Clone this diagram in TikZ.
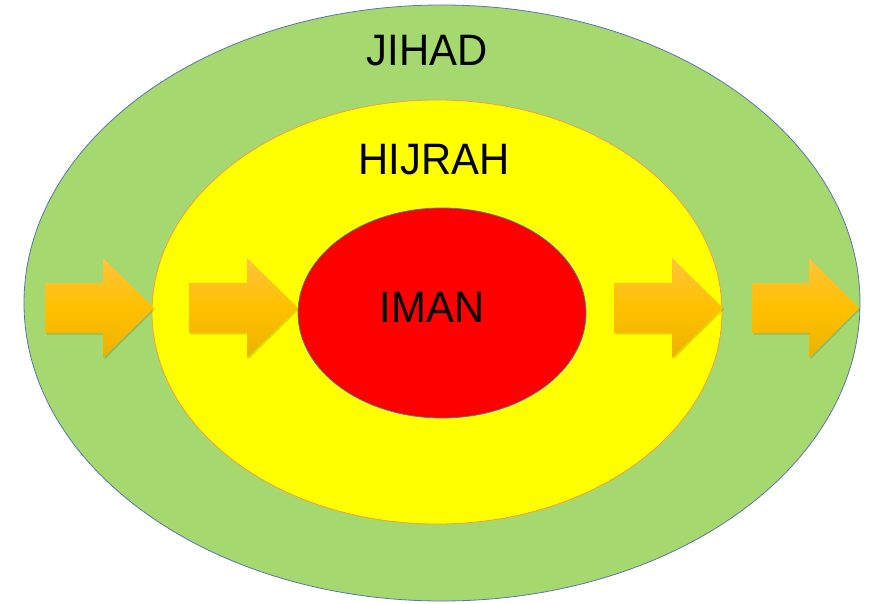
\documentclass[tikz,border=0pt]{standalone}
\usepackage{fontspec}
\setmainfont[FakeStretch=0.95]{Liberation Sans}
\begin{document}
\begin{tikzpicture}[x=1pt,y=-1pt,
  lbl/.style={font=\fontsize{44}{44}\selectfont, text=black, inner sep=0pt, anchor=center},
  arrowshape/.style={top color=arrowTop, bottom color=arrowBot, middle color=arrowMid, draw=none},
  shadowshape/.style={fill=black, opacity=0.13, draw=none}]
\definecolor{outerGreen}{HTML}{A6D870}
\definecolor{outerLine}{HTML}{5A76A8}
\definecolor{midYellow}{HTML}{FFFF00}
\definecolor{midLine}{HTML}{F0A040}
\definecolor{innerRed}{HTML}{FF0000}
\definecolor{innerLine}{HTML}{5A76A8}
\definecolor{arrowTop}{HTML}{FFC43C}
\definecolor{arrowMid}{HTML}{FFC000}
\definecolor{arrowBot}{HTML}{EDB200}
\useasboundingbox (0,0) rectangle (869,604);
\draw[fill=outerGreen, draw=outerLine, line width=0.8pt] (442,303) ellipse [x radius=418, y radius=298];
\draw[fill=midYellow, draw=midLine, line width=0.8pt] (437,312) ellipse [x radius=285, y radius=212];
\draw[fill=innerRed, draw=innerLine, line width=0.8pt] (442,313) ellipse [x radius=144, y radius=105];
\node[lbl] (jihad) at (427,51) {JIHAD};
\node[lbl] (hijrah) at (434,160) {HIJRAH};
\node[lbl] (iman) at (432,307) {IMAN};
\foreach \L/\B/\T in {45/103/154, 189/247/298, 614/672/723, 752/809/859}{
  \path[shadowshape] (\L+1.5,284.5) -- (\B+1.5,284.5) -- (\B+1.5,260) -- (\T+1,309.5) -- (\B+1.5,359.5) -- (\B+1.5,334.5) -- (\L+1.5,334.5) -- cycle;
  \path[arrowshape] (\L,283) -- (\B,283) -- (\B,258) -- (\T,308) -- (\B,358) -- (\B,333) -- (\L,333) -- cycle;
}
\end{tikzpicture}
\end{document}
